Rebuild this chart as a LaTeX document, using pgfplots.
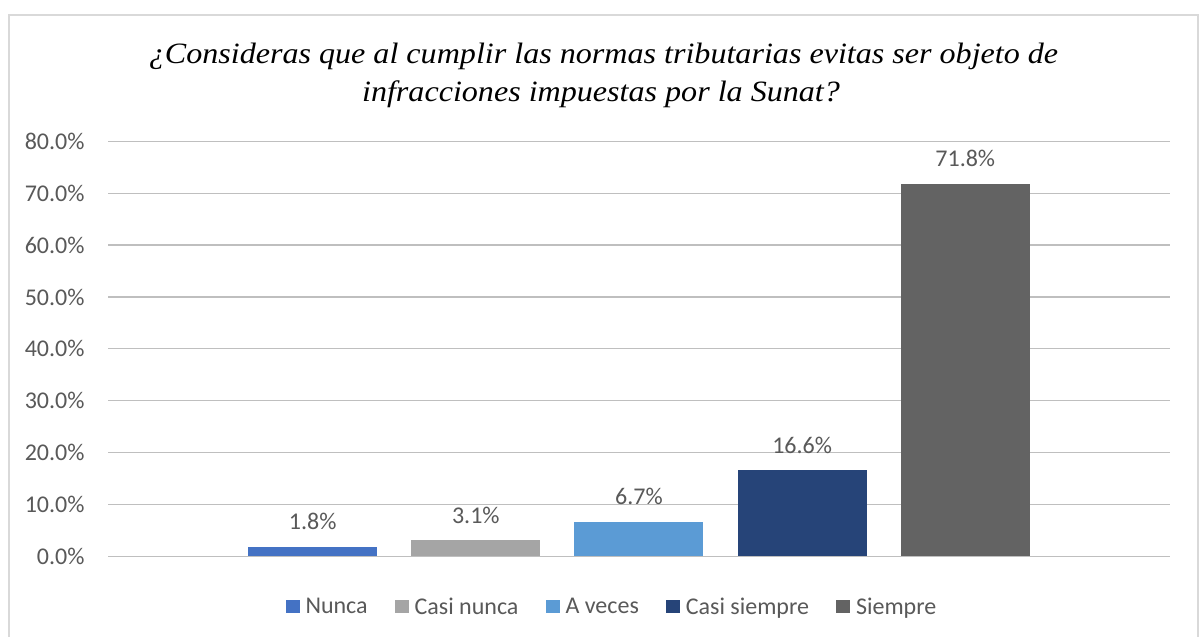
\documentclass[border=0pt]{standalone}
\usepackage{fontspec}
\setmainfont{Carlito}
\newfontfamily\titlefont{Liberation Serif}
\usepackage{pgfplots}
\pgfplotsset{compat=1.18}
\definecolor{cNunca}{HTML}{4472C4}
\definecolor{cCasiNunca}{HTML}{A5A5A5}
\definecolor{cAVeces}{HTML}{5B9BD5}
\definecolor{cCasiSiempre}{HTML}{264478}
\definecolor{cSiempre}{HTML}{636363}
\definecolor{txt}{HTML}{595959}
\definecolor{grid}{HTML}{D9D9D9}
\begin{document}
\begin{tikzpicture}
\useasboundingbox (0,0) rectangle (1199bp,637bp);
\fill[white] (0,0) rectangle (1199bp,637bp);
\draw[grid, line width=1.2bp] (9bp,0) -- (9bp,622bp) -- (1198bp,622bp) -- (1198bp,0);
\node[anchor=base, xscale=1.088, font=\titlefont\itshape\fontsize{29.5bp}{36bp}\selectfont] at (603.5bp,573.7bp) {¿Consideras que al cumplir las normas tributarias evitas ser objeto de};
\node[anchor=base, xscale=1.088, font=\titlefont\itshape\fontsize{29.5bp}{36bp}\selectfont] at (601bp,535.3bp) {infracciones impuestas por la Sunat?};
\begin{axis}[
  at={(108bp,80.7bp)}, anchor=south west,
  scale only axis, width=1062bp, height=415bp,
  xmin=-0.2546, xmax=6.2546, ymin=0, ymax=80,
  ybar, bar width=129bp, bar shift=0pt,
  xtick=\empty, ytick={0,10,...,80},
  axis line style={draw=none}, major tick length=0pt,
  ymajorgrids, grid style={grid, line width=1.3bp},
  yticklabel={\pgfmathprintnumber[fixed,fixed zerofill,precision=1]{\tick}\%},
  /pgf/number format/assume math mode=true,
  yticklabel style={font=\fontsize{24bp}{28bp}\selectfont, text=txt, anchor=east, xshift=-20bp},
  nodes near coords={\pgfmathprintnumber[fixed,fixed zerofill,precision=1]{\pgfplotspointmeta}\%},
  every node near coord/.append style={font=\fontsize{24bp}{28bp}\selectfont, text=txt, anchor=base, yshift=17bp, inner sep=0pt},
  legend columns=5,
  legend style={draw=none, fill=none, at={(0.4745,-0.122)}, anchor=center,
    font=\fontsize{24bp}{28bp}\selectfont, text=txt,
    /tikz/every even column/.append style={column sep=25bp}},
  legend image code/.code={\fill[#1] (0bp,-6.5bp) rectangle (14bp,6.5bp); \path (18bp,0bp);},
  clip=false,
]
\addplot[fill=cNunca, draw=none] coordinates {(1,1.8)};
\addlegendentry{Nunca}
\addplot[fill=cCasiNunca, draw=none] coordinates {(2,3.1)};
\addlegendentry{Casi nunca}
\addplot[fill=cAVeces, draw=none] coordinates {(3,6.7)};
\addlegendentry{A veces}
\addplot[fill=cCasiSiempre, draw=none] coordinates {(4,16.6)};
\addlegendentry{Casi siempre}
\addplot[fill=cSiempre, draw=none] coordinates {(5,71.8)};
\addlegendentry{Siempre}
\end{axis}
\end{tikzpicture}
\end{document}
